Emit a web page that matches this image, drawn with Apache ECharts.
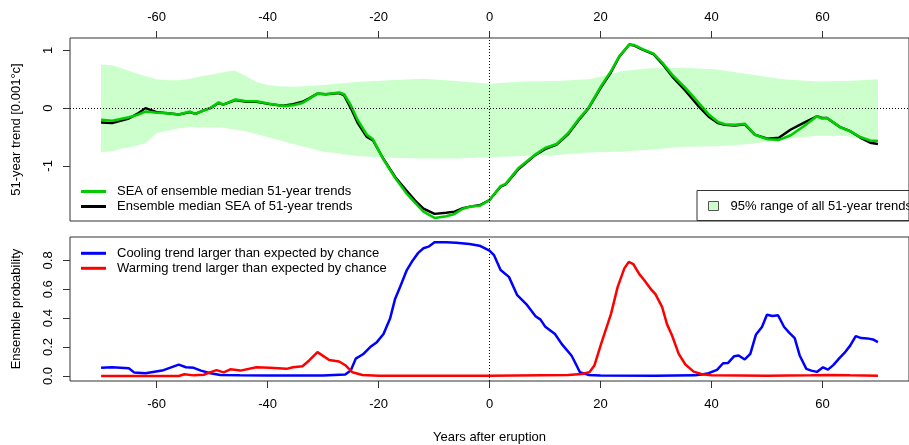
<!DOCTYPE html>
<html><head><meta charset="utf-8">
<script src="https://cdn.jsdelivr.net/npm/echarts@6/dist/echarts.min.js"></script>
<style>html,body{margin:0;padding:0;background:#fff}#c{width:909px;height:445px}</style>
</head><body><div id="c"></div>
<script>
// ---- tick labels ----
const xTicks = [-60, -40, -20, 0, 20, 40, 60];
const trendTicks = [-1, 0, 1];
const probTicks = [0, 0.2, 0.4, 0.6, 0.8];

// ---- top panel: 51-year trends ----
const lineYears = [-70,-68,-65,-63.5,-62,-60,-58,-56,-54,-53,-51.5,-50.3,-48.8,-48,-45.8,-43.8,-42,-39.6,-37.2,-35.4,-33.7,-32.5,-31,-29.5,-27.1,-26.2,-25,-23.8,-22.1,-21,-19.1,-17,-15,-13.4,-11.9,-9.9,-7.8,-6.3,-4.8,-3.3,-1.8,0,2,2.9,5.3,8.3,10,12.1,14.2,16,17.8,20.1,21.9,23.4,25.2,26.1,27.6,29.6,31.1,32.9,35.3,37.7,39.5,41.2,42.4,44.2,46,47.8,50.1,52.2,54.3,56.7,59,59.9,60.8,63.2,65,66.8,68.6,70];
const seaOfMedian = [-0.20,-0.22,-0.16,-0.12,-0.06,-0.08,-0.09,-0.11,-0.06,-0.10,-0.04,0.00,0.10,0.06,0.15,0.12,0.12,0.075,0.035,0.05,0.09,0.16,0.25,0.24,0.27,0.24,0.05,-0.20,-0.46,-0.54,-0.89,-1.21,-1.47,-1.64,-1.79,-1.90,-1.87,-1.83,-1.74,-1.70,-1.69,-1.59,-1.35,-1.31,-1.03,-0.80,-0.69,-0.62,-0.43,-0.20,0.00,0.38,0.64,0.90,1.10,1.09,1.02,0.94,0.79,0.58,0.35,0.09,-0.11,-0.24,-0.28,-0.29,-0.27,-0.46,-0.54,-0.55,-0.47,-0.31,-0.14,-0.18,-0.17,-0.33,-0.40,-0.50,-0.56,-0.57];
const medianOfSea = [-0.25,-0.26,-0.18,-0.10,0.00,-0.07,-0.09,-0.11,-0.07,-0.10,-0.04,0.00,0.09,0.06,0.14,0.11,0.11,0.07,0.04,0.07,0.11,0.17,0.25,0.24,0.26,0.22,0.00,-0.25,-0.50,-0.56,-0.88,-1.19,-1.42,-1.60,-1.74,-1.83,-1.81,-1.79,-1.73,-1.70,-1.68,-1.59,-1.36,-1.32,-1.05,-0.81,-0.71,-0.63,-0.45,-0.22,-0.01,0.36,0.62,0.89,1.10,1.08,1.01,0.93,0.77,0.55,0.30,0.03,-0.15,-0.26,-0.29,-0.30,-0.28,-0.46,-0.53,-0.51,-0.37,-0.25,-0.14,-0.17,-0.17,-0.33,-0.40,-0.51,-0.60,-0.62];

const bandYears = [-70,-68,-66,-64,-62,-61,-60,-58,-56,-54,-52,-50,-48,-46,-44,-42,-40,-38,-35,-30,-24,-18,-12,-6,0,6,12,18,21,24,29,35,41,47,53,59,64,67,70];
const bandUpper = [0.75,0.74,0.68,0.61,0.55,0.53,0.50,0.48,0.48,0.51,0.55,0.58,0.62,0.65,0.56,0.45,0.40,0.38,0.37,0.40,0.45,0.48,0.51,0.47,0.42,0.46,0.47,0.50,0.57,0.64,0.69,0.70,0.67,0.58,0.50,0.46,0.47,0.48,0.50];
const bandLower = [-0.77,-0.74,-0.70,-0.66,-0.61,-0.52,-0.43,-0.39,-0.35,-0.33,-0.33,-0.33,-0.34,-0.37,-0.40,-0.45,-0.50,-0.55,-0.63,-0.75,-0.83,-0.86,-0.87,-0.87,-0.85,-0.83,-0.81,-0.77,-0.76,-0.75,-0.72,-0.67,-0.66,-0.62,-0.54,-0.48,-0.48,-0.53,-0.58];

// ---- bottom panel: ensemble probability ----
const coolYears = [-70,-68,-65,-64,-62,-59,-56,-54.7,-53.3,-52,-50.3,-48.5,-45,-40,-30,-26,-25,-24.1,-22.8,-21.5,-20.3,-19.1,-17.9,-17,-16.1,-14.9,-14,-12.9,-11.9,-11,-9.9,-7.8,-6,-3.6,-1.8,0,0.8,2,3.5,5,6.8,8.3,9.2,10,11.8,13,14.8,15.4,16.3,17.8,20,30,37,38.3,39.5,41,42.1,43,44.1,44.9,46,47,48,49.1,50,51,52,53.1,54,55,55.9,57.1,58,59,60.1,61,62,63.1,64.1,65,66,67,68.1,69.1,70];
const coolProb = [0.056,0.06,0.053,0.023,0.019,0.037,0.078,0.06,0.056,0.037,0.019,0.007,0.005,0.003,0.003,0.01,0.037,0.12,0.15,0.20,0.234,0.29,0.40,0.535,0.617,0.733,0.79,0.85,0.884,0.895,0.925,0.925,0.923,0.914,0.902,0.867,0.837,0.733,0.686,0.559,0.49,0.413,0.39,0.343,0.29,0.222,0.14,0.095,0.026,0.007,0.003,0.002,0.004,0.01,0.019,0.042,0.088,0.09,0.137,0.142,0.114,0.153,0.285,0.339,0.424,0.415,0.42,0.339,0.30,0.262,0.142,0.049,0.037,0.028,0.06,0.044,0.077,0.125,0.165,0.21,0.276,0.262,0.26,0.253,0.234];
const warmYears = [-70,-56,-55,-53.3,-51.5,-50,-49.2,-47.9,-46.7,-44.9,-42,-39.6,-36.6,-35.4,-33.7,-32.5,-31,-28.9,-27.1,-25.9,-24.7,-22.9,-20,0,14.2,16.6,18,18.9,20.1,21.9,23.1,24.3,25.1,25.9,27,27.9,29,29.9,31.1,32,32.9,34.1,35.3,36.8,38.3,40,50,58,61,65,70];
const warmProb = [0,0,0.012,0.004,0.008,0.03,0.04,0.025,0.046,0.037,0.06,0.056,0.049,0.06,0.067,0.107,0.165,0.11,0.10,0.072,0.025,0.007,0.002,0.002,0.007,0.014,0.025,0.072,0.22,0.43,0.617,0.745,0.79,0.775,0.705,0.663,0.605,0.566,0.478,0.357,0.28,0.153,0.079,0.03,0.012,0.005,0.002,0.005,0.007,0.004,0.002];

const FONT = '"Liberation Sans", Arial, Helvetica, sans-serif';
const pairs = (xs, ys) => xs.map((x, i) => [x, ys[i]]);

const axisCol = '#333';
function xAx(grid, pos, margin, extra) {
  return Object.assign({
    type: 'value', gridIndex: grid, position: pos, min: -75.6, max: 75.6,
    axisLine: { show: false, onZero: false }, splitLine: { show: false },
    axisTick: { show: true, length: 7, customValues: xTicks, lineStyle: { color: axisCol, width: 1 } },
    axisLabel: { customValues: xTicks, fontSize: 13, color: '#000', margin: margin, fontFamily: FONT }
  }, extra || {});
}
function yAx(grid, min, max, ticks, name, fmt) {
  return {
    type: 'value', gridIndex: grid, position: 'left', min: min, max: max,
    axisLine: { show: false, onZero: false }, splitLine: { show: false },
    axisTick: { show: true, length: 7, customValues: ticks, lineStyle: { color: axisCol, width: 1 } },
    axisLabel: { customValues: ticks, rotate: 90, fontSize: 13, color: '#000', margin: 15, fontFamily: FONT, formatter: fmt },
    name: name, nameLocation: 'middle', nameRotate: 90, nameGap: 47,
    nameTextStyle: { fontSize: 13, color: '#000', fontFamily: FONT }
  };
}
const dotted = { type: [1, 2], color: '#000', width: 1 };
const legendText = { fontSize: 13, color: '#000', lineHeight: 15, fontFamily: FONT, padding: [0, 0, 0, 6] };

const option = {
  animation: false,
  textStyle: { fontFamily: FONT },
  grid: [
    { left: 70, top: 38, width: 848, height: 183, show: true, borderColor: axisCol, borderWidth: 1, backgroundColor: 'transparent' },
    { left: 70, top: 237, width: 848, height: 144, show: true, borderColor: axisCol, borderWidth: 1, backgroundColor: 'transparent' }
  ],
  xAxis: [
    xAx(0, 'top', 14),
    xAx(1, 'bottom', 17, { name: 'Years after eruption', nameLocation: 'middle', nameGap: 50, nameTextStyle: { fontSize: 13, color: '#000', fontFamily: FONT } })
  ],
  yAxis: [
    yAx(0, -1.953, 1.213, trendTicks, '51-year trend [0.001\u00b0c]', v => String(v)),
    yAx(1, -0.035, 0.962, probTicks, 'Ensemble probability', v => v.toFixed(1))
  ],
  legend: [
    { left: 81, top: 184, orient: 'vertical', padding: 0, itemGap: 0, itemWidth: 25, itemHeight: 3, selectedMode: false,
      data: [{ name: 'SEA of ensemble median 51-year trends', icon: 'rect' }, { name: 'Ensemble median SEA of 51-year trends', icon: 'rect' }],
      textStyle: legendText },
    { left: 697, top: 190.5, orient: 'vertical', padding: [8, 40, 7, 11], itemWidth: 10, itemHeight: 9, selectedMode: false,
      borderColor: axisCol, borderWidth: 1,
      data: [{ name: '95% range of all 51-year trends', icon: 'rect', itemStyle: { color: '#CCFFCC', borderColor: '#555', borderWidth: 1 } }],
      textStyle: Object.assign({}, legendText, { padding: [0, 0, 0, 7] }) },
    { left: 81, top: 245.8, orient: 'vertical', padding: 0, itemGap: 0, itemWidth: 25, itemHeight: 3, selectedMode: false,
      data: [{ name: 'Cooling trend larger than expected by chance', icon: 'rect' }, { name: 'Warming trend larger than expected by chance', icon: 'rect' }],
      textStyle: legendText }
  ],
  series: [
    { name: '95% range of all 51-year trends', type: 'custom', xAxisIndex: 0, yAxisIndex: 0, color: '#CCFFCC',
      silent: true, clip: true, data: [[bandYears[0], bandUpper[0]]], z: 1,
      renderItem: function (params, api) {
        const pts = [];
        for (let i = 0; i < bandYears.length; i++) pts.push(api.coord([bandYears[i], bandUpper[i]]));
        for (let i = bandYears.length - 1; i >= 0; i--) pts.push(api.coord([bandYears[i], bandLower[i]]));
        return { type: 'polygon', shape: { points: pts }, style: { fill: '#CCFFCC', stroke: null } };
      },
      markLine: { silent: true, symbol: ['none', 'none'], label: { show: false }, lineStyle: dotted,
        data: [{ yAxis: 0 }, { xAxis: 0 }] } },
    { name: 'Ensemble median SEA of 51-year trends', type: 'line', xAxisIndex: 0, yAxisIndex: 0, color: '#000',
      data: pairs(lineYears, medianOfSea), symbol: 'none', lineStyle: { width: 2.4, color: '#000' }, silent: true },
    { name: 'SEA of ensemble median 51-year trends', type: 'line', xAxisIndex: 0, yAxisIndex: 0, color: '#00CC00',
      data: pairs(lineYears, seaOfMedian), symbol: 'none', lineStyle: { width: 2.6, color: '#00CC00' }, silent: true },
    { name: 'Cooling trend larger than expected by chance', type: 'line', xAxisIndex: 1, yAxisIndex: 1, color: '#0000FF',
      data: pairs(coolYears, coolProb), symbol: 'none', lineStyle: { width: 2.5, color: '#0000FF' }, silent: true,
      markLine: { silent: true, symbol: ['none', 'none'], label: { show: false }, lineStyle: dotted, data: [{ xAxis: 0 }] } },
    { name: 'Warming trend larger than expected by chance', type: 'line', xAxisIndex: 1, yAxisIndex: 1, color: '#FF0000',
      data: pairs(warmYears, warmProb), symbol: 'none', lineStyle: { width: 2.5, color: '#FF0000' }, silent: true }
  ]
};
const chart = echarts.init(document.getElementById('c'));
chart.setOption(option);
</script>
</body></html>
